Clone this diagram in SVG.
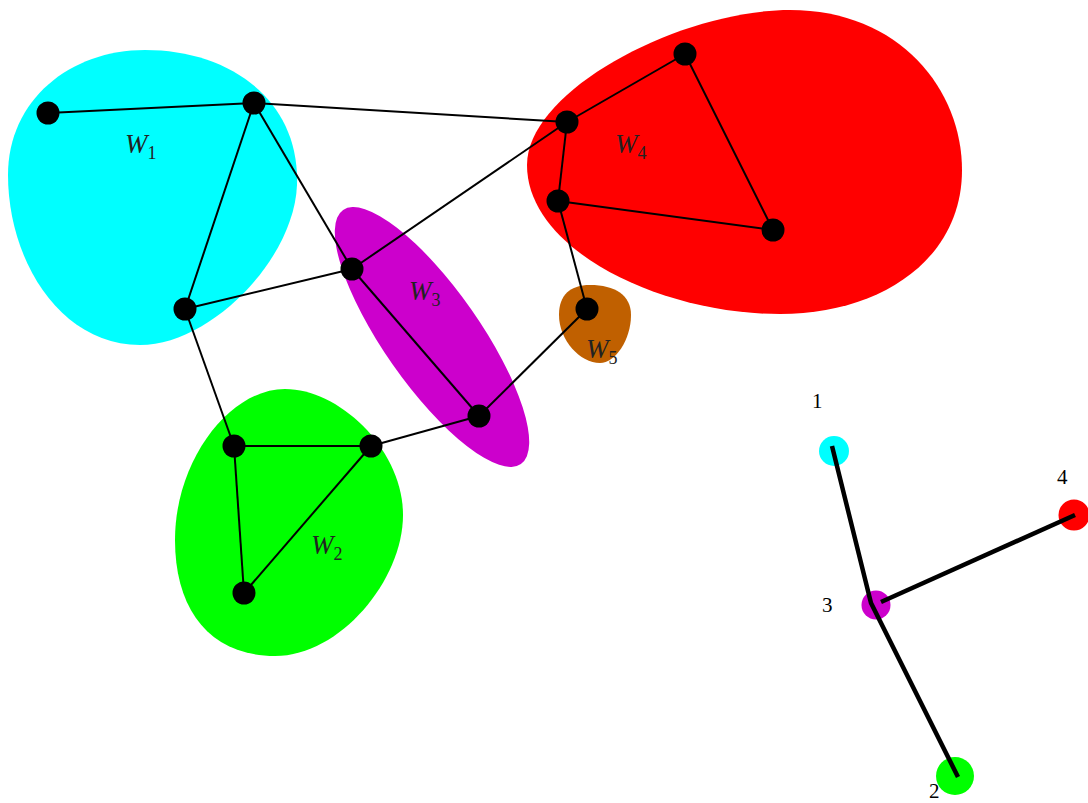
<svg xmlns="http://www.w3.org/2000/svg" width="1088" height="803" viewBox="0 0 1088 803">
<style>
.e{stroke:#000;stroke-width:2;fill:none}
.t{stroke:#000;stroke-width:4.5;fill:none}
.n{fill:#000}
.lbl{font-family:"Liberation Serif",serif;font-size:27px;font-style:italic;fill:#222}
.sub{font-style:normal;font-size:18px}
.num{font-family:"Liberation Serif",serif;font-size:21px;fill:#000}
</style>
<rect width="1088" height="803" fill="#fff"/>
<g id="W1"><path d="M145,50 C230,50 300,100 297,185 C294,260 210,345 140,345 C60,345 8,260 8,175 C8,100 70,50 145,50 Z" fill="#00ffff"/><text class="lbl" x="125" y="153">W<tspan class="sub" dy="6">1</tspan></text></g>
<g id="W2"><path d="M285,389 C340,389 403,450 403,515 C403,580 340,656 275,656 C210,656 175,610 175,540 C175,460 230,389 285,389 Z" fill="#00ff00"/><text class="lbl" x="311" y="554">W<tspan class="sub" dy="6">2</tspan></text></g>
<g id="W3"><ellipse cx="432" cy="337" rx="155" ry="48" transform="rotate(55 432 337)" fill="#cc00cc"/><text class="lbl" x="409" y="300">W<tspan class="sub" dy="6">3</tspan></text></g>
<g id="W4"><path d="M790,10 C900,10 962,90 962,170 C962,260 880,314 780,314 C660,314 527,250 527,165 C527,90 680,10 790,10 Z" fill="#ff0000"/><text class="lbl" x="615" y="153">W<tspan class="sub" dy="6">4</tspan></text></g>
<g id="W5"><path d="M590,285 C615,285 631,295 631,315 C631,340 615,363 600,363 C580,363 559,340 559,315 C559,295 570,285 590,285 Z" fill="#c06000"/><text class="lbl" x="586" y="358">W<tspan class="sub" dy="6">5</tspan></text></g>
<g id="edges">
<line class="e" x1="48" y1="113" x2="254" y2="103"/>
<line class="e" x1="254" y1="103" x2="567" y2="122"/>
<line class="e" x1="254" y1="103" x2="185" y2="309"/>
<line class="e" x1="254" y1="103" x2="352" y2="269"/>
<line class="e" x1="185" y1="309" x2="352" y2="269"/>
<line class="e" x1="185" y1="309" x2="234" y2="446"/>
<line class="e" x1="352" y1="269" x2="567" y2="122"/>
<line class="e" x1="352" y1="269" x2="479" y2="416"/>
<line class="e" x1="479" y1="416" x2="371" y2="446"/>
<line class="e" x1="479" y1="416" x2="587" y2="309"/>
<line class="e" x1="234" y1="446" x2="371" y2="446"/>
<line class="e" x1="234" y1="446" x2="244" y2="593"/>
<line class="e" x1="371" y1="446" x2="244" y2="593"/>
<line class="e" x1="567" y1="122" x2="685" y2="54"/>
<line class="e" x1="567" y1="122" x2="558" y2="201"/>
<line class="e" x1="685" y1="54" x2="773" y2="230"/>
<line class="e" x1="558" y1="201" x2="773" y2="230"/>
<line class="e" x1="558" y1="201" x2="587" y2="309"/>
</g>
<g id="nodes">
<circle class="n" cx="48" cy="113" r="11.5"/>
<circle class="n" cx="254" cy="103" r="11.5"/>
<circle class="n" cx="185" cy="309" r="11.5"/>
<circle class="n" cx="352" cy="269" r="11.5"/>
<circle class="n" cx="479" cy="416" r="11.5"/>
<circle class="n" cx="234" cy="446" r="11.5"/>
<circle class="n" cx="371" cy="446" r="11.5"/>
<circle class="n" cx="244" cy="593" r="11.5"/>
<circle class="n" cx="567" cy="122" r="11.5"/>
<circle class="n" cx="685" cy="54" r="11.5"/>
<circle class="n" cx="558" cy="201" r="11.5"/>
<circle class="n" cx="773" cy="230" r="11.5"/>
<circle class="n" cx="587" cy="309" r="11.5"/>
</g>
<g id="tree-nodes">
<circle id="t1" cx="834" cy="451" r="15" fill="#00ffff"/>
<circle id="t3" cx="876" cy="605" r="14.5" fill="#cc00cc"/>
<circle id="t4" cx="1074" cy="515" r="15.5" fill="#ff0000"/>
<circle id="t2" cx="955" cy="776" r="19" fill="#00ff00"/>
</g>
<g id="tree-edges">
<polyline class="t" points="832,446 871,603 958,777"/>
<line class="t" x1="881" y1="602" x2="1075" y2="515"/>
</g>
<g id="tree-labels">
<text class="num" x="812" y="408">1</text>
<text class="num" x="822" y="612">3</text>
<text class="num" x="1057" y="484">4</text>
<text class="num" x="929" y="798">2</text>
</g>
</svg>
